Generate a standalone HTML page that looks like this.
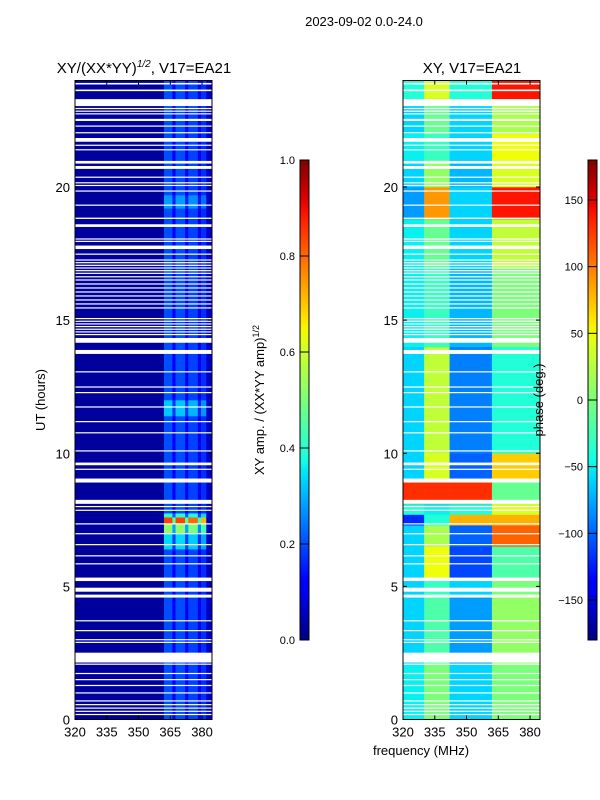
<!DOCTYPE html>
<html><head><meta charset="utf-8"><style>
html,body{margin:0;padding:0;background:#fff;}
svg{display:block;font-family:"Liberation Sans","DejaVu Sans",sans-serif;}
</style></head><body>
<svg id="fig" width="600" height="800" viewBox="0 0 600 800">
<rect x="0" y="0" width="600" height="800" fill="#fff"/>
<text x="364" y="26" font-size="13" text-anchor="middle">2023-09-02 0.0-24.0</text>
<text x="144" y="73" font-size="15" text-anchor="middle">XY/(XX*YY)<tspan font-size="10" dy="-6" font-style="italic">1/2</tspan><tspan dy="6">, V17=EA21</tspan></text>
<text x="472" y="73" font-size="15" text-anchor="middle">XY, V17=EA21</text>
<g id="left"></g>
<g id="right"></g>
<text transform="translate(45,400) rotate(-90)" font-size="13" text-anchor="middle">UT (hours)</text>
<text x="421" y="755" font-size="13" text-anchor="middle">frequency (MHz)</text>
<text transform="translate(264,400) rotate(-90)" font-size="13" text-anchor="middle">XY amp. / (XX*YY amp)<tspan font-size="9" dy="-5">1/2</tspan></text>
<g id="cbars"></g>
<text transform="translate(543,400) rotate(-90)" font-size="13" text-anchor="middle">phase (deg.)</text>
</svg>
<script>
const NS="http://www.w3.org/2000/svg";
// ---- data ----
const gaps=[[23.85,23.91],[23.6,23.66],[23.04,23.3],[22.93,22.97],[22.83,22.87],[22.73,22.77],[22.48,22.56],[22.27,22.31],[22.02,22.06],[21.7,21.84],[21.55,21.59],[21.38,21.42],[20.88,20.98],[20.68,20.79],[20.35,20.39],[20.14,20.18],[20.04,20.08],[19.83,19.87],[19.3,19.34],[18.8,18.85],[18.5,18.6],[18.03,18.07],[17.95,17.98],[17.67,17.8],[17.46,17.5],[17.25,17.28],[17.15,17.18],[17.05,17.08],[16.95,16.98],[16.85,16.88],[16.75,16.78],[16.62,16.65],[16.5,16.53],[16.35,16.38],[16.2,16.23],[16.05,16.08],[15.9,15.93],[15.75,15.78],[15.6,15.63],[15.45,15.48],[15.05,15.08],[14.95,14.98],[14.85,14.88],[14.75,14.78],[14.65,14.68],[14.55,14.58],[14.45,14.48],[14.15,14.33],[13.73,13.88],[13.04,13.08],[12.47,12.51],[12.26,12.3],[11.72,11.76],[11.17,11.21],[10.75,10.79],[10.07,10.11],[9.55,9.65],[9.38,9.42],[8.9,9.05],[8.1,8.25],[7.98,8.02],[7.84,7.88],[7.33,7.37],[6.96,7.0],[6.55,6.59],[6.13,6.17],[5.83,5.87],[5.2,5.33],[4.8,4.95],[4.58,4.69],[3.69,3.73],[3.32,3.36],[2.98,3.02],[2.88,2.92],[2.14,2.51],[2.06,2.1],[1.71,1.75],[1.48,1.52],[1.26,1.3],[0.98,1.02],[0.68,0.72],[0.55,0.58],[0.42,0.45],[0.3,0.33],[0.18,0.21]];
// amplitude: frequency bands and values
const ampBandEdges=[320,362,366,367.5,372,373.5,378,379.5,382,384.7];
const ampBandVals=[0.025,0.2,0.11,0.2,0.11,0.19,0.1,0.17,0.06];
// row factor blocks [startH,endH,factor]
const ampRows=[[0,6.4,1],[6.4,7.0,1.7],[7.0,7.35,2.6],[7.35,7.6,4.2],[7.6,7.75,2.0],[7.75,11.4,1],[11.4,12.0,1.6],[12.0,19.2,1],[19.2,19.7,1.4],[19.7,24,1]];
// phase: frequency bands A-D and row blocks [startH,endH,A,B,C,D]
const phBandEdges=[320,330,342,362,384.7];
const phRows=[[0,2.1,-50,0,-60,0],[2.1,4.6,-60,-20,-80,10],[4.6,5.3,-60,-30,-60,0],[5.3,6.5,-60,50,-110,-20],[6.5,7.3,-60,20,-100,110],[7.3,7.7,-120,-40,80,80],[7.7,8.1,-40,-50,-40,40],[8.1,9,130,130,130,-10],[9,10,-60,40,-100,70],[10,14,-60,30,-90,-40],[14,17,-50,-30,-70,0],[17,18.8,-50,-10,-60,30],[18.8,20,-80,90,-60,140],[20,21,-60,10,-70,40],[21,22,-50,-30,-60,50],[22,23.3,-60,-10,-60,20],[23.3,24,-40,40,-40,140]];
const xTicks=[320,335,350,365,380];
const yTicks=[0,5,10,15,20];
const ampCbTicks=[0,0.2,0.4,0.6,0.8,1.0];
const phCbTicks=[-150,-100,-50,0,50,100,150];
// ---- scales ----
function interp(v,pts){for(let i=1;i<pts.length;i++){if(v<=pts[i][0]){const a=pts[i-1],b=pts[i];return a[1]+(b[1]-a[1])*(v-a[0])/(b[0]-a[0]);}}return pts[pts.length-1][1];}
function jet(v){v=Math.max(0,Math.min(1,v));
const r=interp(v,[[0,0],[0.35,0],[0.66,1],[0.89,1],[1,0.5]]);
const g=interp(v,[[0,0],[0.125,0],[0.375,1],[0.64,1],[0.91,0],[1,0]]);
const b=interp(v,[[0,0.5],[0.11,1],[0.34,1],[0.65,0],[1,0]]);
return `rgb(${Math.round(r*255)},${Math.round(g*255)},${Math.round(b*255)})`;}
const Y0=719.5,Y1=80.5;
const yS=h=>Y0+(Y1-Y0)*h/24;
function xScale(x0,x1){return f=>x0+(x1-x0)*(f-320)/(384.7-320);}
function mk(tag,attrs,parent){const e=document.createElementNS(NS,tag);for(const k in attrs)e.setAttribute(k,attrs[k]);parent.appendChild(e);return e;}
function drawPanel(g,x0,x1,bandEdges,rows,valFn,name){
  const xs=xScale(x0,x1);
  rows.forEach((r,ri)=>{
    for(let b=0;b<bandEdges.length-1;b++){
      const rc=mk('rect',{x:xs(bandEdges[b]),y:yS(r[1]),width:xs(bandEdges[b+1])-xs(bandEdges[b])+0.3,height:yS(r[0])-yS(r[1])+0.3,fill:jet(valFn(r,b))},g);
      
      
    }
  });
  gaps.forEach(gp=>{
    const rc=mk('rect',{x:x0,y:yS(gp[1]),width:x1-x0,height:Math.max(1.2,yS(gp[0])-yS(gp[1])),fill:'#fff'},g);
    
    
  });
  const fr=mk('rect',{x:x0,y:Y1,width:x1-x0,height:Y0-Y1,fill:'none',stroke:'#000','stroke-width':1},g);
  
  
  xTicks.forEach(t=>{const x=xs(t);
    mk('line',{x1:x,x2:x,y1:Y0,y2:Y0-4,stroke:'#000'},g);mk('line',{x1:x,x2:x,y1:Y1,y2:Y1+4,stroke:'#000'},g);
    const tx=mk('text',{x:x,y:Y0+17,'font-size':13,'text-anchor':'middle'},g);tx.textContent=t;
    
    });
  yTicks.forEach(t=>{const y=yS(t);
    mk('line',{x1:x0,x2:x0+4,y1:y,y2:y,stroke:'#000'},g);mk('line',{x1:x1,x2:x1-4,y1:y,y2:y,stroke:'#000'},g);
    const tx=mk('text',{x:x0-5,y:y+5,'font-size':13,'text-anchor':'end'},g);tx.textContent=t;
    
    });
}
drawPanel(document.getElementById('left'),75,212,ampBandEdges,ampRows,(r,b)=>Math.min(1,ampBandVals[b]*((b===0||b===8)?1:r[2])),'amp');
drawPanel(document.getElementById('right'),403,540,phBandEdges,phRows,(r,b)=>(r[2+b]+180)/360,'phase');
// colorbars
const cb=document.getElementById('cbars');
const defs=mk('defs',{},cb);
const grad=mk('linearGradient',{id:'jetg',x1:0,y1:1,x2:0,y2:0},defs);
for(let i=0;i<=40;i++){mk('stop',{offset:i/40,'stop-color':jet(i/40)},grad);}
function colorbar(x,ticks,lo,hi,fmt,name){
  const r=mk('rect',{x:x,y:160,width:9,height:480,fill:'url(#jetg)',stroke:'#000','stroke-width':1},cb);
  
  
  ticks.forEach(t=>{const y=640-480*(t-lo)/(hi-lo);
    mk('line',{x1:x,x2:x+9,y1:y,y2:y,stroke:'#000','stroke-width':1},cb);
    const tx=mk('text',{x:x-5,y:y+4,'font-size':11,'text-anchor':'end'},cb);tx.textContent=fmt(t);
    
    });
}
colorbar(300,ampCbTicks,0,1,t=>t.toFixed(1),'amp-colorbar');
colorbar(588,phCbTicks,-180,180,t=>t<0?'\u2212'+(-t):''+t,'phase-colorbar');
</script>
</body></html>
